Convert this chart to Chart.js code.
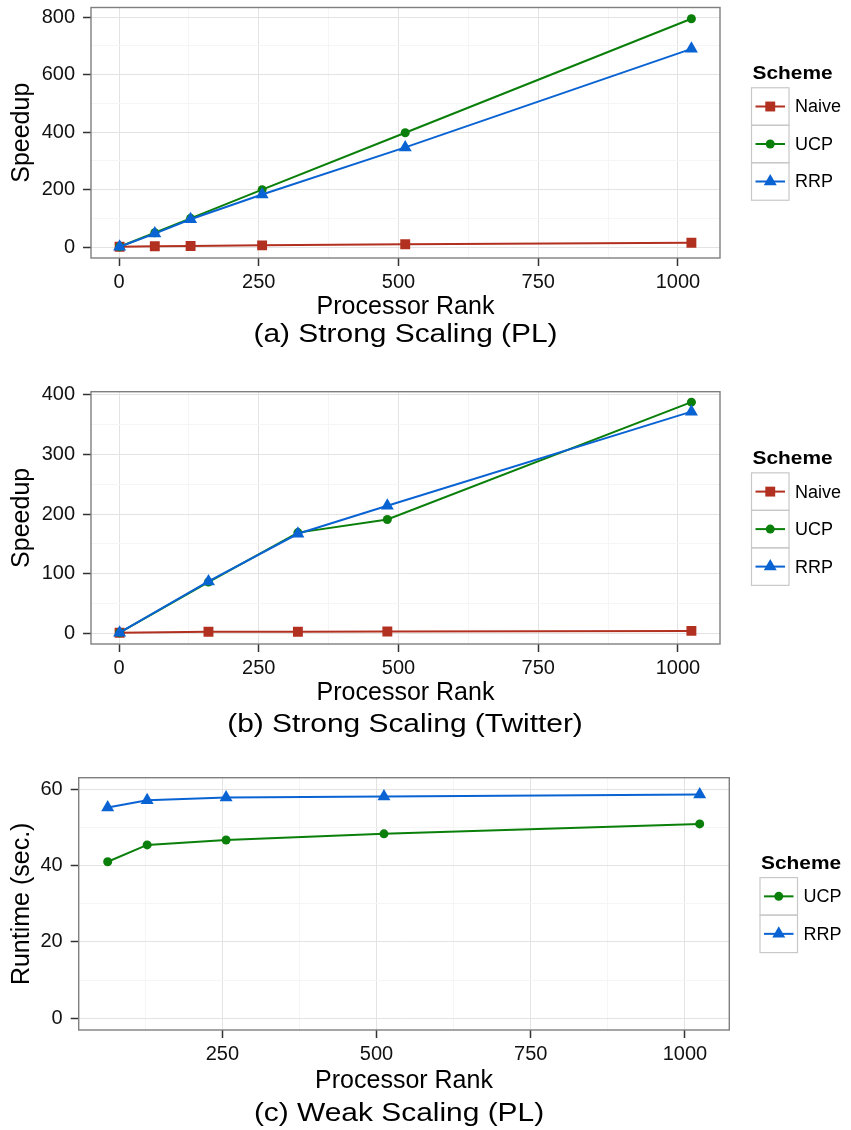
<!DOCTYPE html>
<html>
<head>
<meta charset="utf-8">
<script src="https://cdn.jsdelivr.net/npm/chart.js"></script>
<style>
  body { margin: 0; background: #fff; }
  #wrap { position: relative; width: 851px; height: 1130px; }
  canvas { position: absolute; left: 0; }
</style>
</head>
<body>
<div id="wrap">
  <canvas id="graph1" width="851" height="360" style="top:0px"></canvas>
  <canvas id="graph2" width="851" height="385" style="top:360px"></canvas>
  <canvas id="graph3" width="851" height="390" style="top:740px"></canvas>
</div>
<script>
// (a) strong scaling, PL graph - speedup
let plRanks = [1, 64, 128, 256, 512, 1024];
let plNaive = [1, 3, 4, 6, 10, 15];
let plUCP = [1, 50, 100, 200, 398, 795];
let plRRP = [1, 47, 97, 183, 347, 690];

// (b) strong scaling, Twitter graph - speedup
let twRanks = [1, 160, 320, 480, 1024];
let twNaive = [1, 2.5, 2.5, 3, 4];
let twUCP = [1, 86, 169, 191, 388];
let twRRP = [1, 87, 167, 214, 372];

// (c) weak scaling, PL graph - runtime in seconds
let wkRanks = [64, 128, 256, 512, 1024];
let wkUCP = [41.0, 45.4, 46.7, 48.3, 50.9];
let wkRRP = [55.2, 57.1, 57.8, 58.1, 58.6];

// labelled ticks (minor grid lines sit half way between them)
let rankTicks = [0, 250, 500, 750, 1000];
let speedupTicksA = [0, 200, 400, 600, 800];
let speedupTicksB = [0, 100, 200, 300, 400];
let runtimeTicks = [0, 20, 40, 60];

const RED = "#B2301F";
const GREEN = "#0A7F0A";
const BLUE = "#0A63D3";
const FONT = "'Liberation Sans', Arial, Helvetica, sans-serif";

Chart.defaults.font.family = FONT;

function line(label, xs, ys, color, shape, radius, order){
    let pts = [];
    for(let i = 0; i < xs.length; i++){
        pts.push({x : xs[i], y : ys[i]});
    }
    return {
        label : label,
        data : pts,
        borderColor : color,
        backgroundColor : color,
        pointBackgroundColor : color,
        pointBorderColor : color,
        pointBorderWidth : 0,
        borderWidth : 2,
        pointStyle : shape,
        pointRadius : radius,
        tension : 0,
        order : order
    };
}

function drawMarker(ctx, shape, x, y, r){
    ctx.beginPath();
    if(shape === "circle"){
        ctx.arc(x, y, r, 0, Math.PI * 2);
    } else if(shape === "rect"){
        let h = r * Math.SQRT1_2;
        ctx.rect(x - h, y - h, 2 * h, 2 * h);
    } else {
        ctx.moveTo(x, y - r);
        ctx.lineTo(x + r * 0.866, y + r * 0.5);
        ctx.lineTo(x - r * 0.866, y + r * 0.5);
        ctx.closePath();
    }
    ctx.fill();
}

// panel border, "Scheme" key on the right and the sub caption underneath
const panelDecor = {
    id : "panelDecor",
    afterDraw(chart, args, opts){
        const ctx = chart.ctx;
        const a = chart.chartArea;
        ctx.save();

        ctx.strokeStyle = "#7F7F7F";
        ctx.lineWidth = 1.4;
        ctx.strokeRect(a.left, a.top, a.right - a.left, a.bottom - a.top);

        // key
        const sets = chart.data.datasets;
        const row = 37.5;
        const blockTop = (a.top + a.bottom) / 2 - (22.5 + sets.length * row) / 2;
        const boxTop = blockTop + 22.5;
        ctx.fillStyle = "#000";
        ctx.font = "bold 19px " + FONT;
        ctx.textAlign = "left";
        ctx.textBaseline = "alphabetic";
        ctx.save();
        ctx.translate(opts.keyX + 1, boxTop - 9);
        ctx.scale(1.1, 1);
        ctx.fillText("Scheme", 0, 0);
        ctx.restore();

        sets.forEach((ds, i) => {
            const y0 = boxTop + i * row;
            const cy = y0 + row / 2;
            ctx.strokeStyle = "#C8C8C8";
            ctx.lineWidth = 1.2;
            ctx.strokeRect(opts.keyX, y0, row, row);
            ctx.strokeStyle = ds.borderColor;
            ctx.lineWidth = 2;
            ctx.beginPath();
            ctx.moveTo(opts.keyX + 4, cy);
            ctx.lineTo(opts.keyX + row - 4, cy);
            ctx.stroke();
            ctx.fillStyle = ds.borderColor;
            drawMarker(ctx, ds.pointStyle, opts.keyX + row / 2, cy, ds.pointRadius);
            ctx.fillStyle = "#000";
            ctx.font = "18px " + FONT;
            ctx.textBaseline = "middle";
            ctx.fillText(ds.label, opts.keyX + row + 6, cy + 1);
        });

        // caption
        ctx.fillStyle = "#000";
        ctx.font = "26px " + FONT;
        ctx.textAlign = "center";
        ctx.textBaseline = "alphabetic";
        ctx.translate(opts.captionX, opts.captionY);
        ctx.scale(1.15, 1);
        ctx.fillText(opts.caption, 0, 0);
        ctx.restore();
    }
};

function axis(min, max, step, labels, title, isX, size, titlePad){
    const hidden = "rgba(0,0,0,0)";
    return {
        type : "linear",
        min : min,
        max : max,
        // fixed axis sizes so the plot box sits where the layout padding says
        afterFit : s => {
            if(isX){ s.height = 70; } else { s.width = size; }
            s.paddingTop = 0;
            s.paddingBottom = 0;
            s.paddingLeft = 0;
            s.paddingRight = 0;
        },
        // one tick per grid line: labelled ones plus the minor ones between them
        afterBuildTicks : s => {
            let t = [];
            for(let v = Math.ceil(min / step) * step; v <= max; v += step){
                t.push({value : v});
            }
            s.ticks = t;
        },
        border : { display : false },
        grid : {
            lineWidth : 1,
            tickLength : 8,
            tickWidth : 1.5,
            color : c => labels.includes(c.tick.value) ? "#E3E3E3" : "#F5F5F5",
            tickColor : c => labels.includes(c.tick.value) ? "#333" : hidden
        },
        ticks : {
            autoSkip : false,
            maxRotation : 0,
            padding : isX ? 4 : 8,
            color : "#111",
            font : { size : 20 },
            callback : v => labels.includes(v) ? String(v) : ""
        },
        title : {
            display : true,
            text : title,
            color : "#000",
            font : { size : 25 },
            padding : isX ? { top : 0, bottom : titlePad } : { top : 7, bottom : 0 }
        }
    };
}

function makeChart(id, cfg){
    const canvas = document.getElementById(id);
    const H = canvas.height;
    return new Chart(canvas.getContext("2d"), {
        type : "line",
        data : { datasets : cfg.datasets },
        plugins : [panelDecor],
        options : {
            responsive : false,
            animation : false,
            devicePixelRatio : 1,
            layout : {
                padding : { left : 0, right : 851 - cfg.right, top : cfg.top, bottom : H - cfg.bottom - 70 }
            },
            plugins : {
                legend : { display : false },
                tooltip : { enabled : false },
                panelDecor : { keyX : cfg.keyX, caption : cfg.caption, captionX : cfg.captionX, captionY : cfg.captionY }
            },
            scales : {
                x : axis(cfg.xMin, cfg.xMax, 125, rankTicks, "Processor Rank", true, 0, cfg.xTitlePad),
                y : axis(cfg.yMin, cfg.yMax, cfg.yStep, cfg.yLabels, cfg.yTitle, false, cfg.left, 0)
            }
        }
    });
}

let chart1 = makeChart("graph1", {
    datasets : [
        line("Naive", plRanks, plNaive, RED, "rect", 7, 3),
        line("UCP", plRanks, plUCP, GREEN, "circle", 4.5, 2),
        line("RRP", plRanks, plRRP, BLUE, "triangle", 7.5, 1)
    ],
    left : 91, right : 720, top : 5, bottom : 258,
    xMin : -50.15, xMax : 1075.15,
    yMin : -38, yMax : 834, yStep : 100, yLabels : speedupTicksA, yTitle : "Speedup",
    xTitlePad : 6,
    keyX : 751.5, caption : "(a) Strong Scaling (PL)", captionX : 405.5, captionY : 342
});

let chart2 = makeChart("graph2", {
    datasets : [
        line("Naive", twRanks, twNaive, RED, "rect", 7, 3),
        line("UCP", twRanks, twUCP, GREEN, "circle", 4.5, 2),
        line("RRP", twRanks, twRRP, BLUE, "triangle", 7.5, 1)
    ],
    left : 91, right : 720, top : 31.7, bottom : 284,
    xMin : -50.15, xMax : 1075.15,
    yMin : -18, yMax : 405.5, yStep : 50, yLabels : speedupTicksB, yTitle : "Speedup",
    xTitlePad : 6,
    keyX : 751.5, caption : "(b) Strong Scaling (Twitter)", captionX : 405, captionY : 372
});

let chart3 = makeChart("graph3", {
    datasets : [
        line("UCP", wkRanks, wkUCP, GREEN, "circle", 4.5, 2),
        line("RRP", wkRanks, wkRRP, BLUE, "triangle", 7.5, 1)
    ],
    left : 78.7, right : 729.3, top : 37.7, bottom : 290,
    xMin : 17, xMax : 1072,
    yMin : -3.06, yMax : 63, yStep : 10, yLabels : runtimeTicks, yTitle : "Runtime (sec.)",
    xTitlePad : 4,
    keyX : 760, caption : "(c) Weak Scaling (PL)", captionX : 399, captionY : 381
});
</script>
</body>
</html>
